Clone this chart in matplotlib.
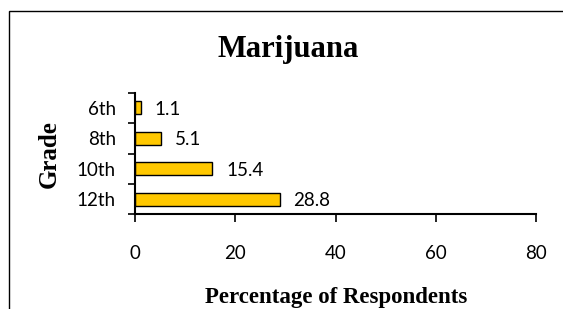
import matplotlib
matplotlib.use("Agg")
import matplotlib.pyplot as plt
from matplotlib.patches import Rectangle
from matplotlib.ticker import FixedLocator

grades = ["6th", "8th", "10th", "12th"]
values = [1.1, 5.1, 15.4, 28.8]
x_ticks = [0, 20, 40, 60, 80]

BAR = "#FFC800"
SERIF = "Liberation Serif"
SANS = "Lato"

fig = plt.figure(figsize=(5.63, 3.09), dpi=100)

# outer chart border (runs off the right and bottom edges)
fig.patches.append(Rectangle((8.5 / 563, -0.2), 1.2, 1 - 11 / 309 + 0.2,
                             transform=fig.transFigure, fill=False,
                             edgecolor="black", linewidth=1.0))

ax = fig.add_axes([135.4 / 563, 1 - 214.4 / 309, 400.3 / 563, 121.8 / 309])

pos = list(range(len(grades)))[::-1]  # 6th at top
ax.barh(pos, values, height=0.42, color=BAR, edgecolor="black", linewidth=1.0)
for p, v in zip(pos, values):
    ax.annotate(f"{v:.1f}", (v, p), xytext=(10, -1), textcoords="offset points",
                va="center", ha="left", fontsize=13.5, family=SANS)

ax.set_xlim(0, 80)
ax.set_ylim(-0.5, 3.5)
ax.set_xticks(x_ticks)
ax.set_xticklabels([str(t) for t in x_ticks], fontsize=13.5, family=SANS)
ax.tick_params(axis="x", direction="out", length=6, width=1.2, pad=16)

ax.yaxis.set_major_locator(FixedLocator([-0.5, 0.5, 1.5, 2.5, 3.5]))
ax.set_yticklabels([])
ax.yaxis.set_minor_locator(FixedLocator(pos))
ax.set_yticklabels(grades, minor=True, fontsize=13.5, family=SANS)
ax.tick_params(axis="y", which="major", direction="out", length=5, width=1.2)
ax.tick_params(axis="y", which="minor", length=0, pad=14)

for s in ["top", "right"]:
    ax.spines[s].set_visible(False)
for s in ["left", "bottom"]:
    ax.spines[s].set_linewidth(1.5)

fig.text(288 / 563, 1 - 49 / 309, "Marijuana", ha="center", va="center",
         fontsize=22, fontweight="bold", family=SERIF)
fig.text(336 / 563, 1 - 297 / 309, "Percentage of Respondents", ha="center",
         va="center", fontsize=16.5, fontweight="bold", family=SERIF)
fig.text(49 / 563, 1 - 154 / 309, "Grade", ha="center", va="center",
         rotation=90, fontsize=18, fontweight="bold", family=SERIF)

fig.savefig("out.png", dpi=100)
